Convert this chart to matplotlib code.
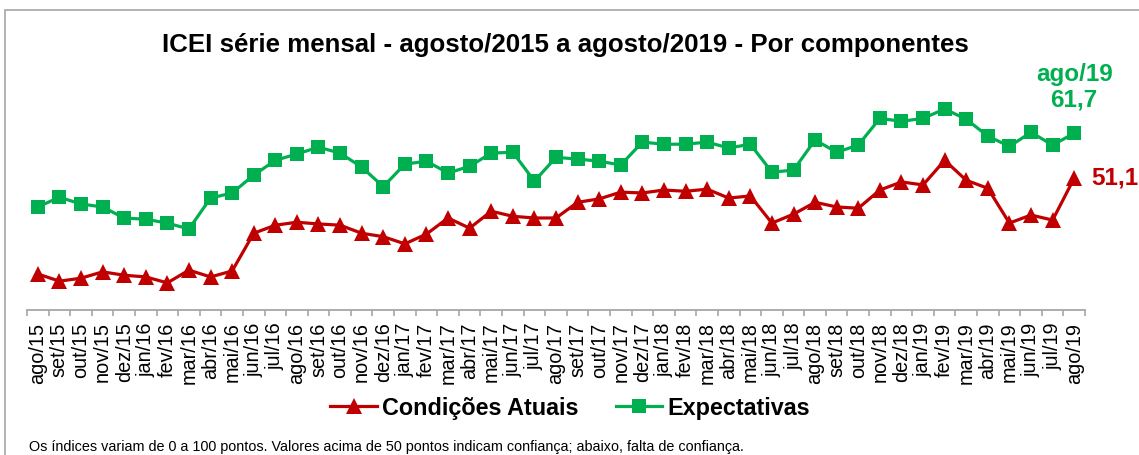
import matplotlib
matplotlib.use("Agg")
import matplotlib.pyplot as plt
from matplotlib.patches import Rectangle
from matplotlib.lines import Line2D

plt.rcParams["font.family"] = ["Liberation Sans", "DejaVu Sans"]

MESES = [
    "ago/15", "set/15", "out/15", "nov/15", "dez/15", "jan/16", "fev/16",
    "mar/16", "abr/16", "mai/16", "jun/16", "jul/16", "ago/16", "set/16",
    "out/16", "nov/16", "dez/16", "jan/17", "fev/17", "mar/17", "abr/17",
    "mai/17", "jun/17", "jul/17", "ago/17", "set/17", "out/17", "nov/17",
    "dez/17", "jan/18", "fev/18", "mar/18", "abr/18", "mai/18", "jun/18",
    "jul/18", "ago/18", "set/18", "out/18", "nov/18", "dez/18", "jan/19",
    "fev/19", "mar/19", "abr/19", "mai/19", "jun/19", "jul/19", "ago/19",
]

# Condições Atuais
CONDICOES = [
    28.5, 26.8, 27.5, 29.0, 28.2, 27.8, 26.4, 29.4, 27.8, 29.2,
    38.1, 40.0, 40.7, 40.3, 40.0, 38.1, 37.3, 35.6, 37.9, 41.7,
    39.3, 43.3, 42.1, 41.7, 41.7, 45.4, 46.2, 47.8, 47.6, 48.3,
    48.0, 48.5, 46.4, 46.9, 40.5, 42.6, 45.4, 44.3, 44.0, 48.3,
    50.2, 49.5, 55.3, 50.6, 48.7, 40.5, 42.4, 41.2, 51.1,
]

# Expectativas
EXPECTATIVAS = [
    44.3, 46.6, 45.0, 44.3, 41.7, 41.4, 40.5, 39.1, 46.4, 47.6,
    51.8, 55.3, 56.8, 58.4, 57.0, 53.7, 49.1, 54.4, 55.1, 52.3,
    53.9, 57.0, 57.2, 50.4, 56.0, 55.6, 55.1, 54.2, 59.6, 59.1,
    59.1, 59.6, 58.2, 59.1, 52.5, 53.0, 60.1, 57.2, 58.9, 65.2,
    64.5, 65.2, 67.4, 65.0, 61.0, 58.6, 61.9, 58.9, 61.7,
]

VERMELHO = "#C00000"
VERDE = "#00B050"
CINZA = "#A6A6A6"

W, H = 1139, 455
fig = plt.figure(figsize=(W / 100, H / 100), dpi=100)

# moldura do gráfico (só topo e esquerda aparecem no recorte)
fig.patches.append(Rectangle((5 / W, -0.1), 1.2, 1 - 10 / H + 0.1,
                             transform=fig.transFigure, fill=False,
                             edgecolor=CINZA, linewidth=1.2))

ax = fig.add_axes([27 / W, (H - 310) / H, 1058 / W, 212 / H])
x = list(range(len(MESES)))

ax.plot(x, CONDICOES, color=VERMELHO, linewidth=2.3, marker="^",
        markersize=11, markeredgewidth=0, label="Condições Atuais", zorder=3)
ax.plot(x, EXPECTATIVAS, color=VERDE, linewidth=2.3, marker="s",
        markersize=10.5, markeredgewidth=0, label="Expectativas", zorder=3)

ax.set_xlim(-0.5, len(MESES) - 0.5)
ax.set_ylim(20, 70)
ax.set_yticks([])
for s in ("left", "right", "top"):
    ax.spines[s].set_visible(False)
ax.spines["bottom"].set_color(CINZA)
ax.spines["bottom"].set_linewidth(1.3)

ax.set_xticks(x)
ax.set_xticklabels(MESES, rotation=90, fontsize=14.3, va="top", ha="center")
ax.tick_params(axis="x", which="major", length=0, pad=9)
ax.set_xticks([i - 0.5 for i in range(len(MESES) + 1)], minor=True)
ax.tick_params(axis="x", which="minor", length=4, color=CINZA, width=1.2)

# rótulos do último ponto
ax.annotate("ago/19\n61,7", xy=(x[-1], EXPECTATIVAS[-1]), xytext=(0, 33),
            textcoords="offset points", ha="center", va="center",
            color=VERDE, fontsize=17.5, fontweight="bold", linespacing=1.15)
ax.annotate("51,1", xy=(x[-1], CONDICOES[-1]), xytext=(12, 0),
            textcoords="offset points", ha="left", va="center",
            color=VERMELHO, fontsize=17.5, fontweight="bold")

fig.text(565 / W, 1 - 45 / H,
         "ICEI série mensal - agosto/2015 a agosto/2019 - Por componentes",
         ha="center", va="center", fontsize=18.6, fontweight="bold")

handles = [
    Line2D([], [], color=VERMELHO, linewidth=2.3, marker="^", markersize=11,
           markeredgewidth=0),
    Line2D([], [], color=VERDE, linewidth=2.3, marker="s", markersize=10.5,
           markeredgewidth=0),
]
fig.legend(handles, ["Condições Atuais", "Expectativas"], ncol=2,
           loc="center", bbox_to_anchor=(570 / W, 1 - 408 / H),
           frameon=False, handlelength=2.0, handletextpad=0.2,
           columnspacing=1.6, prop={"size": 16.8, "weight": "bold"})

fig.text(29 / W, 1 - 447 / H,
         "Os índices variam de 0 a 100 pontos. Valores acima de 50 pontos "
         "indicam confiança; abaixo, falta de confiança.",
         ha="left", va="center", fontsize=10.4)

fig.savefig("out.png", dpi=100, facecolor="white")
